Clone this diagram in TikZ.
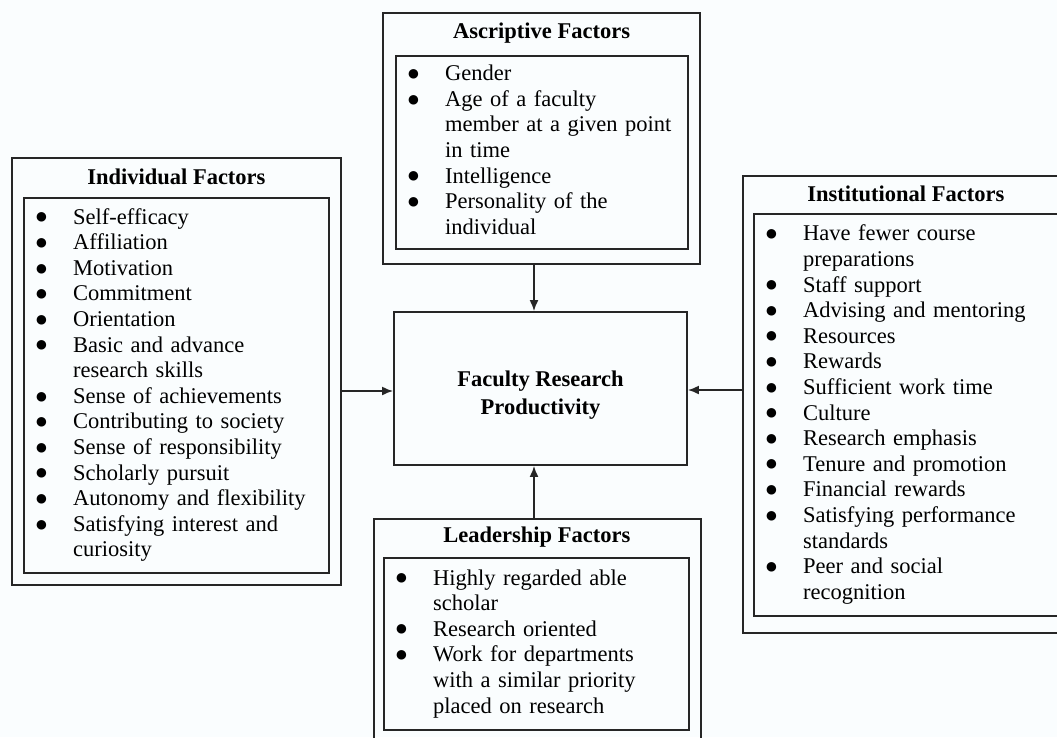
\documentclass[tikz,border=0pt]{standalone}
\usepackage{fontspec}
\setmainfont{Liberation Serif}
\usepackage{xcolor}
\usetikzlibrary{arrows.meta,positioning,calc}

\definecolor{bgcol}{HTML}{FAFDFE}
\definecolor{boxline}{HTML}{262626}
\newcommand{\diagfont}{\fontsize{22.5}{25.6}\selectfont}
\newcommand{\bul}{\raisebox{0.3pt}{\fontsize{22}{22}\selectfont ●}}
\newcommand{\factorlist}[1]{\noindent\begin{tabular}{@{\hspace{11pt}}c@{\hspace{25pt}}l@{}}#1\end{tabular}}

\tikzset{
  outerbox/.style={draw=boxline, line width=1.8pt, anchor=north west, inner sep=0pt},
  innerbox/.style={draw=boxline, line width=1.8pt, anchor=north west, inner sep=0pt, align=left},
  factortitle/.style={font=\diagfont\bfseries, inner sep=0pt},
  link/.style={->, line width=1.8pt, draw=boxline}
}

\begin{document}
\begin{tikzpicture}[x=1pt, y=-1pt, >={Latex[length=11pt,width=9pt]}, font=\diagfont]
  \useasboundingbox (0,0) rectangle (1057,737);
  \clip (0,0) rectangle (1057,737);
  \fill[bgcol] (0,0) rectangle (1057,737);

  % Individual factors
  \node[outerbox, minimum width=329pt, minimum height=427pt] (indiv) at (11,157) {};
  \node[innerbox, text width=305pt, minimum height=375pt] (indivlist) at (23,197) {\factorlist{
    \bul & Self-efficacy\\
    \bul & Affiliation\\
    \bul & Motivation\\
    \bul & Commitment\\
    \bul & Orientation\\
    \bul & Basic and advance\\
         & research skills\\
    \bul & Sense of achievements\\
    \bul & Contributing to society\\
    \bul & Sense of responsibility\\
    \bul & Scholarly pursuit\\
    \bul & Autonomy and flexibility\\
    \bul & Satisfying interest and\\
         & curiosity}};
  \node[factortitle] (indivtitle) at ($(indiv.north)!0.5!(indivlist.north)$) {Individual Factors};

  % Ascriptive factors
  \node[outerbox, minimum width=317pt, minimum height=251pt] (ascr) at (382,12) {};
  \node[innerbox, text width=292pt, minimum height=193pt] (ascrlist) at (395,55) {\factorlist{
    \bul & Gender\\
    \bul & Age of a faculty\\
         & member at a given point\\
         & in time\\
    \bul & Intelligence\\
    \bul & Personality of the\\
         & individual}};
  \node[factortitle] (ascrtitle) at ($(ascr.north)!0.5!(ascrlist.north)$) {Ascriptive Factors};

  % Institutional factors
  \node[outerbox, minimum width=326pt, minimum height=457pt] (inst) at (742,175) {};
  \node[innerbox, text width=304pt, minimum height=402pt] (instlist) at (753,213) {\factorlist{
    \bul & Have fewer course\\
         & preparations\\
    \bul & Staff support\\
    \bul & Advising and mentoring\\
    \bul & Resources\\
    \bul & Rewards\\
    \bul & Sufficient work time\\
    \bul & Culture\\
    \bul & Research emphasis\\
    \bul & Tenure and promotion\\
    \bul & Financial rewards\\
    \bul & Satisfying performance\\
         & standards\\
    \bul & Peer and social\\
         & recognition}};
  \node[factortitle] (insttitle) at ($(inst.north)!0.5!(instlist.north)$) {Institutional Factors};

  % Leadership factors
  \node[outerbox, minimum width=327pt, minimum height=232pt] (lead) at (373,518) {};
  \node[innerbox, text width=305pt, minimum height=172pt] (leadlist) at (383,557) {\factorlist{
    \bul & Highly regarded able\\
         & scholar\\
    \bul & Research oriented\\
    \bul & Work for departments\\
         & with a similar priority\\
         & placed on research}};
  \node[factortitle] (leadtitle) at ($(lead.north)!0.5!(leadlist.north)$) {Leadership Factors};

  % Outcome
  \node[draw=boxline, line width=1.8pt, minimum width=293pt, minimum height=153pt,
    font=\bfseries\fontsize{22.5}{28}\selectfont] (prod) at (540.5,388.5)
    {\raisebox{-6pt}[\height][\depth]{\begin{tabular}{@{}c@{}}Faculty Research\\Productivity\end{tabular}}};

  % Arrows into the outcome
  \coordinate (vx) at (534,0);
  \coordinate (hyl) at (0,391);
  \coordinate (hyr) at (0,390);
  \draw[link] (ascr.south -| vx) -- (prod.north -| vx);
  \draw[link] (lead.north -| vx) -- (prod.south -| vx);
  \draw[link] (indiv.east |- hyl) -- (prod.west |- hyl);
  \draw[link] (inst.west |- hyr) -- (prod.east |- hyr);
\end{tikzpicture}
\end{document}
